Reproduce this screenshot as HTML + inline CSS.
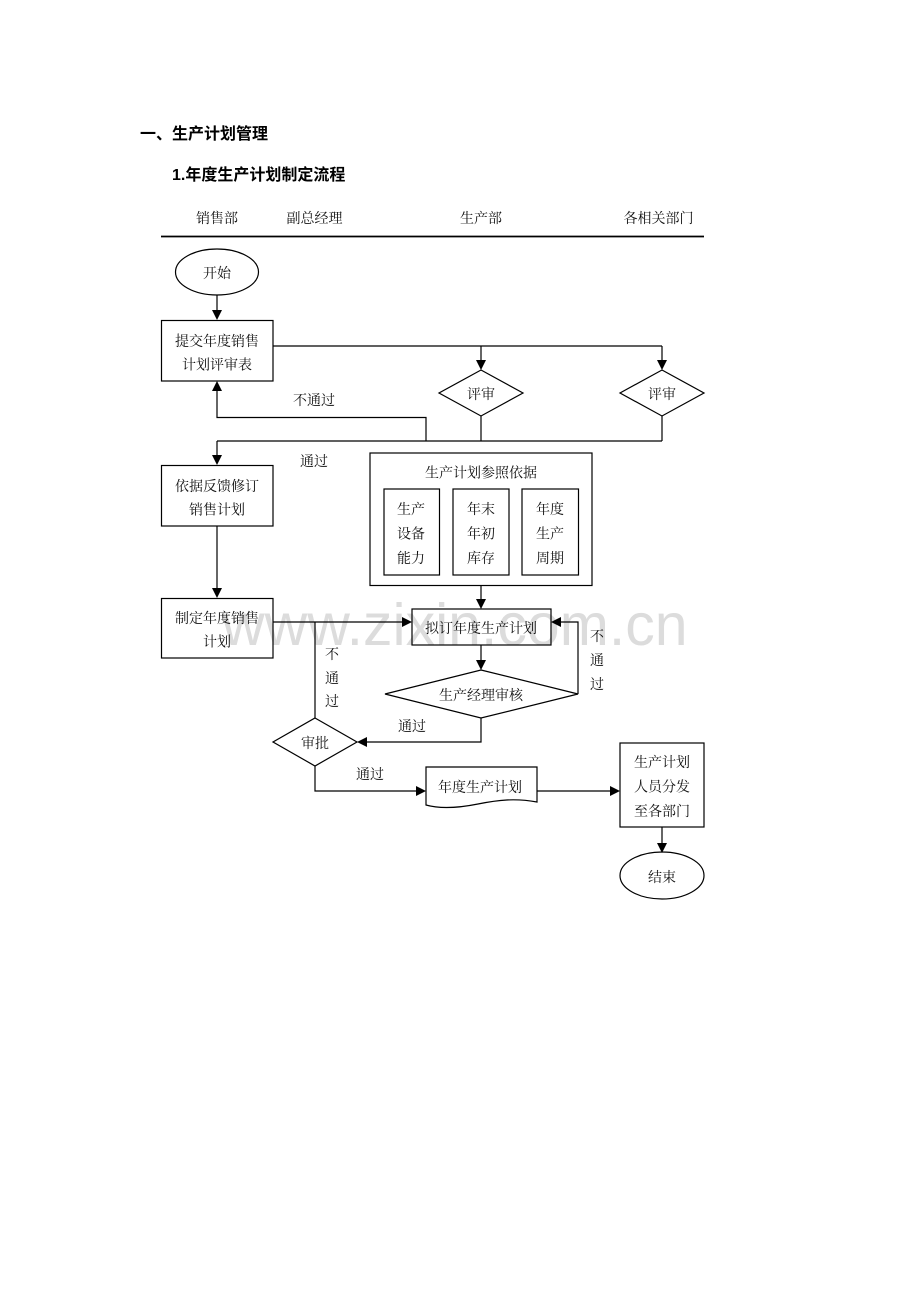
<!DOCTYPE html>
<html>
<head>
<meta charset="utf-8">
<style>
html,body{margin:0;padding:0;background:#fff;}
body{width:920px;height:1302px;overflow:hidden;}
svg{display:block;}
.t{font-family:"Liberation Serif","Noto Serif CJK SC",serif;font-size:14px;fill:#111;}
.h{font-family:"Liberation Sans","Noto Sans CJK SC",sans-serif;font-size:16px;font-weight:700;fill:#000;}
.wm{font-family:"Liberation Sans",sans-serif;font-size:59px;fill:#dcdcdc;}
</style>
</head>
<body>
<svg width="920" height="1302" viewBox="0 0 920 1302" xmlns="http://www.w3.org/2000/svg">
  <!-- watermark -->
  <text class="wm" x="222" y="645">www.zixin.com.cn</text>

  <!-- headings -->
  <g transform="translate(0,2.5)">
  <text class="h" x="140" y="132" dominant-baseline="central">一、生产计划管理</text>
  <text class="h" x="172" y="173" dominant-baseline="central">1.年度生产计划制定流程</text>
  </g>

  <!-- lane headers -->
  <g class="t" text-anchor="middle" transform="translate(0,2.5)">
    <text x="217" y="217" dominant-baseline="central">销售部</text>
    <text x="314.5" y="217" dominant-baseline="central">副总经理</text>
    <text x="481" y="217" dominant-baseline="central">生产部</text>
    <text x="658.5" y="217" dominant-baseline="central">各相关部门</text>
  </g>
  <line x1="161" y1="236.5" x2="704" y2="236.5" stroke="#000" stroke-width="1.8"/>

  <g fill="none" stroke="#000" stroke-width="1.2">
    <!-- start -->
    <ellipse cx="217" cy="272" rx="41.5" ry="23"/>
    <line x1="217" y1="295" x2="217" y2="312"/>
    <!-- box A -->
    <rect x="161.5" y="320.5" width="111.5" height="60.5"/>
    <polyline points="273,346 662,346"/>
    <line x1="481" y1="346" x2="481" y2="362"/>
    <line x1="662" y1="346" x2="662" y2="362"/>
    <!-- diamonds 评审 -->
    <polygon points="481,370 523,393 481,416 439,393"/>
    <polygon points="662,370 704,393 662,416 620,393"/>
    <line x1="481" y1="416" x2="481" y2="441"/>
    <line x1="662" y1="416" x2="662" y2="441"/>
    <line x1="217" y1="441" x2="662" y2="441"/>
    <line x1="217" y1="441" x2="217" y2="457"/>
    <!-- not pass back to A -->
    <polyline points="426,441 426,417.5 217,417.5 217,389"/>
    <!-- box B -->
    <rect x="161.5" y="465.5" width="111.5" height="60.5"/>
    <line x1="217" y1="526" x2="217" y2="590"/>
    <!-- box C -->
    <rect x="161.5" y="598.5" width="111.5" height="59.5"/>
    <!-- reference box -->
    <rect x="370" y="453" width="222" height="132.5"/>
    <rect x="384" y="489" width="55.5" height="86"/>
    <rect x="453" y="489" width="56" height="86"/>
    <rect x="522" y="489" width="56.5" height="86"/>
    <line x1="481" y1="585.5" x2="481" y2="601"/>
    <!-- box D -->
    <rect x="412" y="609" width="139" height="36"/>
    <line x1="273" y1="622" x2="404" y2="622"/>
    <line x1="315" y1="622" x2="315" y2="718"/>
    <line x1="481" y1="645" x2="481" y2="662"/>
    <!-- diamond E -->
    <polygon points="481,670 578,694 481,718 385,694"/>
    <polyline points="578,694 578,622 559,622"/>
    <polyline points="481,718 481,742 365,742"/>
    <!-- diamond F -->
    <polygon points="315,718 357,742 315,766 273,742"/>
    <polyline points="315,766 315,791 418,791"/>
    <!-- document G -->
    <path d="M426,767 L537,767 L537,802 C515,798 498,800 478,804 C458,808 440,809 426,805 Z"/>
    <line x1="537" y1="791" x2="612" y2="791"/>
    <!-- box H -->
    <rect x="620" y="743" width="84" height="84"/>
    <line x1="662" y1="827" x2="662" y2="844"/>
    <!-- end -->
    <ellipse cx="662" cy="875.5" rx="42" ry="23.5"/>
  </g>

  <!-- arrowheads -->
  <g fill="#000">
    <polygon points="212,310 222,310 217,320"/>
    <polygon points="476,360 486,360 481,370"/>
    <polygon points="657,360 667,360 662,370"/>
    <polygon points="212,455 222,455 217,465"/>
    <polygon points="212,391 222,391 217,381"/>
    <polygon points="212,588 222,588 217,598"/>
    <polygon points="476,599 486,599 481,609"/>
    <polygon points="402,617 402,627 412,622"/>
    <polygon points="476,660 486,660 481,670"/>
    <polygon points="561,617 561,627 551,622"/>
    <polygon points="367,737 367,747 357,742"/>
    <polygon points="416,786 416,796 426,791"/>
    <polygon points="610,786 610,796 620,791"/>
    <polygon points="657,843 667,843 662,853"/>
  </g>

  <!-- labels -->
  <g class="t" text-anchor="middle" transform="translate(0,2.5)">
    <text x="217" y="272" dominant-baseline="central">开始</text>
    <text x="217" y="340" dominant-baseline="central">提交年度销售</text>
    <text x="217" y="363.5" dominant-baseline="central">计划评审表</text>
    <text x="481" y="393" dominant-baseline="central">评审</text>
    <text x="662" y="393" dominant-baseline="central">评审</text>
    <text x="314" y="399" dominant-baseline="central">不通过</text>
    <text x="314" y="460" dominant-baseline="central">通过</text>
    <text x="217" y="485" dominant-baseline="central">依据反馈修订</text>
    <text x="217" y="508.5" dominant-baseline="central">销售计划</text>
    <text x="481" y="471.5" dominant-baseline="central">生产计划参照依据</text>
    <text x="411" y="508" dominant-baseline="central">生产</text>
    <text x="411" y="532.5" dominant-baseline="central">设备</text>
    <text x="411" y="557" dominant-baseline="central">能力</text>
    <text x="481" y="508" dominant-baseline="central">年末</text>
    <text x="481" y="532.5" dominant-baseline="central">年初</text>
    <text x="481" y="557" dominant-baseline="central">库存</text>
    <text x="550" y="508" dominant-baseline="central">年度</text>
    <text x="550" y="532.5" dominant-baseline="central">生产</text>
    <text x="550" y="557" dominant-baseline="central">周期</text>
    <text x="217" y="617" dominant-baseline="central">制定年度销售</text>
    <text x="217" y="640.5" dominant-baseline="central">计划</text>
    <text x="481" y="627" dominant-baseline="central">拟订年度生产计划</text>
    <text x="332" y="653" dominant-baseline="central">不</text>
    <text x="332" y="677" dominant-baseline="central">通</text>
    <text x="332" y="700" dominant-baseline="central">过</text>
    <text x="597" y="635" dominant-baseline="central">不</text>
    <text x="597" y="659" dominant-baseline="central">通</text>
    <text x="597" y="683" dominant-baseline="central">过</text>
    <text x="481" y="694" dominant-baseline="central">生产经理审核</text>
    <text x="412" y="725" dominant-baseline="central">通过</text>
    <text x="315" y="742" dominant-baseline="central">审批</text>
    <text x="370" y="773" dominant-baseline="central">通过</text>
    <text x="480" y="786" dominant-baseline="central">年度生产计划</text>
    <text x="662" y="761" dominant-baseline="central">生产计划</text>
    <text x="662" y="785.5" dominant-baseline="central">人员分发</text>
    <text x="662" y="810" dominant-baseline="central">至各部门</text>
    <text x="662" y="876" dominant-baseline="central">结束</text>
  </g>
</svg>
</body>
</html>
